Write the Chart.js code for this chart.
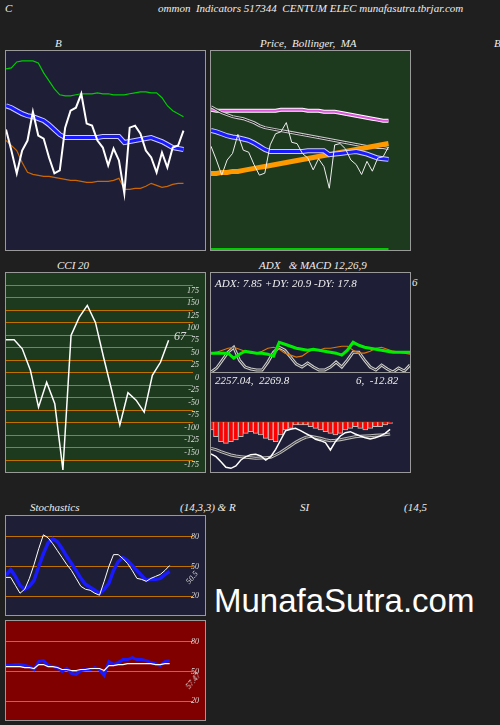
<!DOCTYPE html>
<html>
<head>
<meta charset="utf-8">
<script src="https://cdn.jsdelivr.net/npm/chart.js@4.4.0/dist/chart.umd.min.js"></script>
<style>
  body { margin:0; background:#1f1f1f; width:500px; height:725px; position:relative; overflow:hidden; font-family:"Liberation Serif", serif; font-style:italic; color:#eee; }
  .panel { position:absolute; border:1px solid #999; box-sizing:border-box; }
  .panel canvas { position:absolute; left:0; top:0; }
  .t { position:absolute; font-size:11px; white-space:pre; color:#eee; }
  .s { position:absolute; font-size:12px; white-space:pre; color:#eee; }
  .rot { position:absolute; font-size:8px; color:#ddd; transform:rotate(-50deg); transform-origin:left top; }
  .wm { position:absolute; left:214px; top:582px; font-family:"Liberation Sans", sans-serif; font-style:normal; font-size:33px; color:#fff; }
</style>
</head>
<body>
<div class="t" style="left:5px;top:2px">C</div>
<div class="t" style="left:158px;top:2px">ommon  Indicators 517344  CENTUM ELEC munafasutra.tbrjar.com</div>
<div class="t" style="left:55px;top:37px">B</div>
<div class="t" style="left:260px;top:37px">Price,  Bollinger,  MA</div>
<div class="t" style="left:494px;top:37px">B</div>
<div class="t" style="left:57px;top:259px">CCI 20</div>
<div class="t" style="left:259px;top:259px">ADX   &amp; MACD 12,26,9</div>
<div class="t" style="left:412px;top:276px">6</div>
<div class="t" style="left:30px;top:501px">Stochastics</div>
<div class="t" style="left:180px;top:501px">(14,3,3) &amp; R</div>
<div class="t" style="left:300px;top:501px">SI</div>
<div class="t" style="left:404px;top:501px">(14,5</div>
<div class="wm">MunafaSutra.com</div>

<div class="panel" style="left:5px;top:50px;width:201px;height:201px;background:#1e1e36"><canvas id="bb"></canvas></div>
<div class="panel" style="left:210px;top:50px;width:201px;height:201px;background:#1e3a1e"><canvas id="price"></canvas></div>
<div class="panel" style="left:5px;top:272px;width:201px;height:201px;background:#1e3a1e"><canvas id="cci"></canvas>
  <div class="s" style="left:168px;top:56px;color:#ddd">67</div></div>
<div class="panel" style="left:210px;top:272px;width:201px;height:101px;background:#1e1e36"><canvas id="adx"></canvas>
  <div class="t" style="left:4px;top:4px">ADX: 7.85 +DY: 20.9 -DY: 17.8</div></div>
<div class="panel" style="left:210px;top:372px;width:201px;height:101px;background:#1e1e36"><canvas id="macd"></canvas>
  <div class="t" style="left:4px;top:1px">2257.04,  2269.8</div>
  <div class="t" style="left:145px;top:1px">6,  -12.82</div></div>
<div class="panel" style="left:5px;top:515px;width:201px;height:101px;background:#1e1e36"><canvas id="stoch"></canvas>
  <div class="rot" style="left:178px;top:64px">50.5</div></div>
<div class="panel" style="left:5px;top:620px;width:201px;height:101px;background:#800000"><canvas id="rsi"></canvas>
  <div class="rot" style="left:178px;top:64px">57.47</div></div>

<script>
// Bollinger panel (34 sessions)
const closePrice = [121,100,77,100,110,139,115,112,93,77,80,123,140,143,157,127,125,110,103,85,102,90,57,123,125,117,100,93,78,98,83,103,105,120];
const bbMiddle = [145,143,140,137,135,134,132,130,126,121,116,113,113,113,113,113,113,113,114,114,114,114,108,109,110,111,112,113,111,109,106,103,102,101];
const bbUpper = [182,183,189,190,190,190,188,178,170,162,156,155,155,156,157,157,157,158,157,157,156,156,156,157,158,159,159,158,158,153,145,140,137,134];
const bbLower = [110,105,100,88,78,76,75,74,74,73,72,71,70,70,69,68,68,69,69,69,70,72,61,61,62,62,64,67,65,63,64,66,67,67];

// Price / MA panel
const maPink = [141,140,140,140,140,140,140,140,140,140,140,140,140,141,141,141,141,141,140,140,140,139,139,139,138,137,136,135,134,133,132,131,130,130];
const maBlack = [144,141,138,136,134,133,132,130,128,125,123,122,121,120,119,118,117,116,115,114,113,112,111,110,109,108,107,106,105,104,104,103,103,102];
const maOrange = [77,77,78,78,79,79,80,81,82,83,84,85,86,87,88,89,90,91,92,93,94,95,96,97,98,99,100,101,102,103,104,105,106,107];

// CCI 20
const cci = [76,76,58,15,-59,-9,-52,-185,85,121,145,111,41,-25,-95,-30,-45,-69,5,31,75];
const cciTicks = [175,150,125,100,75,50,25,0,-25,-50,-75,-100,-125,-150,-175];
const cciLevels = [185,160,135,110,85,60,35,10,-15,-40,-65,-90,-115,-140,-165];

// ADX
const adx = [19,19,19,19,14,18,21,20,19,19,18,16,30,28,26,24,23,22,23,22,21,20,19,17,22,30,27,25,24,23,22,21,20,20,20,20];
const plusDI = [19,20,22,24,25,23,21,19,19,21,24,25,23,19,17,15,16,20,23,22,24,24,25,26,26,22,19,19,21,24,25,23,21,20,19,18];
const minusDI = [0,4,12,20,25,12,5,3,2,2,10,20,25,22,15,8,5,9,5,2,2,5,10,5,12,20,20,12,5,2,7,3,0,4,1,7];

// MACD 12,26,9
const macdHist = [-23,-43,-58,-63,-58,-53,-43,-33,-28,-33,-38,-48,-53,-58,-38,-23,-18,-8,-8,-8,-13,-18,-23,-28,-33,-38,-33,-23,-18,-13,-18,-23,-18,-13,-13,-8,-3];
const macdLine = [-95,-103,-118,-135,-138,-131,-113,-103,-97,-96,-101,-113,-103,-81,-53,-25,-21,-18,-25,-33,-41,-51,-55,-61,-83,-58,-41,-31,-28,-35,-41,-46,-50,-46,-41,-33,-21];
const macdSignal = [-78,-82,-88,-93,-98,-101,-103,-105,-106,-108,-107,-106,-105,-98,-90,-80,-70,-60,-52,-45,-42,-45,-48,-52,-55,-54,-52,-49,-46,-43,-42,-41,-40,-39,-38,-37,-35];

// Stochastics 14,3,3 and RSI 14
const stochK = [39,39,31,23,27,38,52,68,82,79,73,66,59,52,46,38,30,27,26,23,21,35,50,62,62,58,53,46,38,37,35,38,40,42,46,51];
const stochD = [41,47,40,31,27,30,36,50,63,74,78,75,68,60,53,46,38,32,29,26,23,27,33,46,55,59,56,51,46,41,36,37,37,38,42,45];
const rsi = [56,56,57,57,56,55,52,60,61,56,55,54,50,53,48,47,51,52,52,54,52,46,60,57,59,62,62,64,62,62,61,59,58,56,60,61];
const rsiAvg = [55,55,55,55,54,54,53,57,57,55,55,54,52,52,51,51,52,52,53,53,53,51,56,56,57,57,58,58,58,58,58,58,57,57,58,58];
const levelTicks = [80,50,20];

function labels(n) { return Array.from({ length: n }, (_, i) => i); }

function line(data, color, width, axis) {
  return { type: 'line', data: data, borderColor: color, borderWidth: width, pointRadius: 0, tension: 0, yAxisID: axis || 'y' };
}

// datasets are listed bottom to top; Chart.js paints index 0 last, so reverse
function makeChart(id, w, h, n, datasets, yScale, extraScales) {
  const cv = document.getElementById(id);
  cv.width = w; cv.height = h;
  const scales = Object.assign({
    x: { display: false, type: 'category', offset: false },
    y: yScale
  }, extraScales || {});
  return new Chart(cv, {
    type: 'line',
    data: { labels: labels(n), datasets: datasets.slice().reverse() },
    options: {
      responsive: false, animation: false,
      layout: { padding: 0 },
      plugins: { legend: { display: false }, tooltip: { enabled: false } },
      scales: scales
    }
  });
}

function hiddenY(min, max) { return { display: false, min: min, max: max }; }

function levelAxis(ticks, min, max, gridColor, showLabels) {
  return {
    position: 'right', min: min, max: max,
    afterBuildTicks: (ax) => { ax.ticks = ticks.map(v => ({ value: v })); },
    // mirrored labels sit inside; keep the plot area full height
    afterFit: (ax) => { ax.paddingTop = 0; ax.paddingBottom = 0; },
    grid: { display: !!gridColor, color: gridColor || 'transparent', drawTicks: false, lineWidth: 1 },
    border: { display: false },
    ticks: { display: showLabels !== false, mirror: true, padding: 6, color: '#ddd', font: { family: 'Liberation Serif', style: 'italic', size: 8 } }
  };
}

function whiteEdge(data, color, width, axis) {
  return [line(data, '#ccccff', width + 2, axis), line(data, color, width, axis)];
}

// Bollinger bands
makeChart('bb', 199, 199, 38, [
  line(bbUpper, '#00cc00', 1.2),
  ...whiteEdge(bbMiddle, '#1a1aff', 3),
  line(bbLower, '#cc6600', 1.2),
  line(closePrice, '#ffffff', 2)
], hiddenY(0, 200));

// Price, Bollinger, MA
makeChart('price', 199, 199, 38, [
  line(maPink, '#ffffff', 4),
  line(maPink, '#dd55dd', 2),
  line(maBlack, '#cccccc', 3),
  line(maBlack, '#111111', 1),
  line(maOrange, '#ff9900', 5),
  ...whiteEdge(bbMiddle, '#1a1aff', 3, 'yc'),
  line(closePrice, '#eeeeee', 1, 'yc'),
  line(closePrice.map(() => 1), '#00cc00', 2)
], hiddenY(0, 200), { yc: hiddenY(-37, 266) });

// CCI
makeChart('cci', 199, 199, 24, [
  line(cci, '#ffffff', 1.5)
], levelAxis(cciLevels, -189, 210, '#c07000', false),
{ yl: levelAxis(cciTicks, -189, 210, null, true) });

// ADX
makeChart('adx', 199, 99, 36, [
  line(minusDI, '#cccccc', 3),
  line(minusDI, '#333333', 1),
  line(plusDI, '#dd7700', 1.2),
  line(adx, '#00ee00', 3)
], hiddenY(0, 100));

// MACD
makeChart('macd', 199, 99, 41, [
  line(macdHist.map(() => 0), '#c07000', 1),
  { type: 'bar', data: macdHist, backgroundColor: '#ff0000', borderColor: '#bbbbbb', borderWidth: 1, barPercentage: 1, categoryPercentage: 1 },
  line(macdSignal, '#bbbbbb', 3),
  line(macdSignal, '#333333', 1),
  line(macdLine, '#ffffff', 1.5)
], hiddenY(-149, 148));

// Stochastics
makeChart('stoch', 199, 99, 41, [
  line(stochD, '#1a1aff', 3.5),
  line(stochK, '#ffffff', 1)
], levelAxis(levelTicks, 1, 101, '#c07000'));

// RSI
makeChart('rsi', 199, 99, 41, [
  line(rsi, '#1a1aff', 3),
  line(rsiAvg, '#ffffff', 1.2)
], levelAxis(levelTicks, 1, 101, '#dd6600'));
</script>
</body>
</html>
